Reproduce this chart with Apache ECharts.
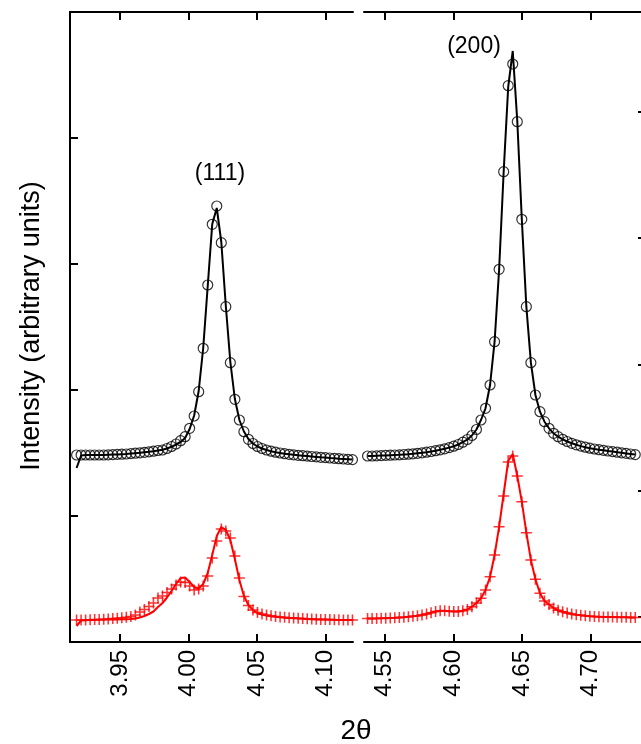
<!DOCTYPE html>
<html>
<head>
<meta charset="utf-8">
<script src="https://cdn.jsdelivr.net/npm/echarts@6.0.0/dist/echarts.min.js"></script>
<style>
  html, body { margin: 0; padding: 0; background: #fff; }
  #chart { width: 641px; height: 744px; }
</style>
</head>
<body>
<div id="chart"></div>
<script>
// 2theta sampling, (111) panel
const xsLeft = [3.9183, 3.9216, 3.9249, 3.9282, 3.9315, 3.9348, 3.9381, 3.9414, 3.9447, 3.9480,
  3.9513, 3.9546, 3.9579, 3.9612, 3.9645, 3.9678, 3.9711, 3.9744, 3.9777, 3.9810,
  3.9843, 3.9876, 3.9909, 3.9942, 3.9975, 4.0008, 4.0041, 4.0074, 4.0107, 4.0140,
  4.0173, 4.0206, 4.0239, 4.0272, 4.0305, 4.0338, 4.0371, 4.0404, 4.0437, 4.0470,
  4.0503, 4.0536, 4.0569, 4.0602, 4.0635, 4.0668, 4.0701, 4.0734, 4.0767, 4.0800,
  4.0833, 4.0866, 4.0899, 4.0932, 4.0965, 4.0998, 4.1031, 4.1064, 4.1097, 4.1130,
  4.1163, 4.1196];

const blackLeft = [187, 187, 187, 187, 187, 187, 187, 187.2, 187.4, 187.6,
  187.8, 188, 188.4, 188.8, 189.2, 189.7, 190.2, 190.8, 191.5, 192,
  193.5, 195.5, 198, 201.3, 205.3, 213.7, 226, 250.3, 293.7, 357,
  417.7, 436, 399.3, 335.3, 279.3, 242.7, 222, 210.3, 202.7, 198.5,
  195.5, 193.5, 192, 190.8, 189.8, 189, 188.3, 187.7, 187.2, 186.7,
  186.3, 185.9, 185.5, 185.1, 184.7, 184.4, 184, 183.7, 183.3, 183,
  182.7, 182.4];

const blackFitLeft = [174, 186.5, 187, 187, 187, 187, 187, 187.2, 187.4, 187.6,
  187.8, 188, 188.4, 188.8, 189.2, 189.7, 190.2, 190.8, 191.5, 192.3,
  193.5, 195.2, 197.5, 200, 204, 213, 226.5, 251, 294, 356,
  418, 434, 400, 336, 280, 243, 222, 210.5, 203, 198.5,
  195.5, 193.5, 192, 190.8, 189.8, 189, 188.3, 187.7, 187.2, 186.7,
  186.3, 185.9, 185.5, 185.1, 184.7, 184.4, 184, 183.7, 183.3, 183,
  182.7, 182.4];

const redLeft = [22, 22, 22, 22.2, 22.4, 22.6, 22.8, 23, 23.4, 23.8,
  24.2, 24.8, 25.5, 27, 30, 32.5, 35.5, 39, 44, 46,
  49.5, 53, 57, 60, 59.5, 56, 52, 53, 56, 66,
  84, 101, 113, 111, 104, 86, 64, 45.5, 36.5, 32,
  29.5, 28, 27, 26.2, 25.6, 25.1, 24.7, 24.3, 24, 23.7,
  23.4, 23.2, 23, 22.8, 22.6, 22.5, 22.4, 22.3, 22.2, 22.1,
  22, 22];

const redFitLeft = [16, 21.5, 21.8, 22, 22.1, 22.2, 22.3, 22.4, 22.5, 22.6,
  22.7, 22.8, 23, 23.5, 24.5, 26, 28, 30.5, 35, 39,
  44.5, 51, 58, 64, 64.5, 60, 55, 53.5, 58, 69,
  87, 106, 115, 112, 102, 83, 62, 46, 37, 32,
  29, 27.5, 26.5, 25.8, 25.2, 24.7, 24.3, 24, 23.7, 23.4,
  23.2, 23, 22.8, 22.6, 22.5, 22.4, 22.3, 22.2, 22.1, 22,
  22, 22];

// 2theta sampling, (200) panel
const xsRight = [4.5376, 4.5409, 4.5442, 4.5475, 4.5508, 4.5541, 4.5574, 4.5607, 4.5640, 4.5673,
  4.5706, 4.5739, 4.5772, 4.5805, 4.5838, 4.5871, 4.5904, 4.5937, 4.5970, 4.6003,
  4.6036, 4.6069, 4.6102, 4.6135, 4.6168, 4.6201, 4.6234, 4.6267, 4.6300, 4.6333,
  4.6366, 4.6399, 4.6432, 4.6465, 4.6498, 4.6531, 4.6564, 4.6597, 4.6630, 4.6663,
  4.6696, 4.6729, 4.6762, 4.6795, 4.6828, 4.6861, 4.6894, 4.6927, 4.6960, 4.6993,
  4.7026, 4.7059, 4.7092, 4.7125, 4.7158, 4.7191, 4.7224, 4.7257, 4.7290, 4.7323];

const blackRight = [186, 186, 186.2, 186.4, 186.6, 186.8, 187, 187.2, 187.5, 187.8,
  188.2, 188.7, 189.2, 189.8, 190.5, 191.3, 192.2, 193.2, 194.4, 195.8,
  197.5, 199.8, 202.5, 206.5, 212.5, 222, 233.7, 257, 300.3, 372.7,
  470.3, 556.3, 578, 520.3, 422.7, 335.3, 279.3, 247, 230.3, 220.3,
  213.7, 208.7, 205.3, 202.7, 200.5, 198.7, 197.2, 195.9, 194.8, 193.8,
  193, 192.3, 191.7, 191, 190.4, 189.8, 189.2, 188.6, 188, 187.4];

const blackFitRight = [186, 186, 186.2, 186.4, 186.6, 186.8, 187, 187.2, 187.5, 187.8,
  188.2, 188.7, 189.2, 189.8, 190.5, 191.3, 192.2, 193.2, 194.4, 195.8,
  197.5, 199.8, 202.5, 206.5, 212.5, 222, 233.7, 257, 300.3, 372.7,
  470.3, 555, 591, 521, 422.7, 335.3, 279.3, 247, 230.3, 220.3,
  213.7, 208.7, 205.3, 202.7, 200.5, 198.7, 197.2, 195.9, 194.8, 193.8,
  193, 192.3, 191.7, 191, 190.4, 189.8, 189.2, 188.6, 188, 187.4];

const redRight = [23.5, 23.5, 23.6, 23.7, 23.8, 24, 24.2, 24.5, 24.8, 25.2,
  25.7, 26.3, 27, 28, 29.2, 30.5, 31.3, 31.2, 30.8, 30.5,
  30.5, 31.2, 32.5, 35.3, 39, 43.7, 52, 65.3, 87, 115.3,
  146, 180, 186, 166, 140.3, 109.3, 82, 62.7, 48.7, 41,
  37.5, 34, 31.7, 30.2, 29, 28, 27.3, 26.7, 26.2, 25.8,
  25.5, 25.3, 25.1, 25, 24.9, 24.8, 24.7, 24.7, 24.6, 24.6];

const redFitRight = [23.5, 23.5, 23.6, 23.7, 23.8, 24, 24.2, 24.5, 24.8, 25.2,
  25.7, 26.3, 27, 28, 29.2, 30.5, 31.3, 31.2, 30.8, 30.5,
  30.5, 31.2, 32.5, 35.3, 39, 43.7, 52, 65.3, 87, 115.3,
  148, 181, 188, 166, 140.3, 109.3, 82, 62.7, 48.7, 41,
  37.5, 34, 31.7, 30.2, 29, 28, 27.3, 26.7, 26.2, 25.8,
  25.5, 25.3, 25.1, 25, 24.9, 24.8, 24.7, 24.7, 24.6, 24.6];

const ticksLeft = [3.95, 4.00, 4.05, 4.10];
const ticksRight = [4.55, 4.60, 4.65, 4.70];
const yTicksLeft = [126, 252, 378, 504];
const yTicksRight = [25, 151, 277, 404, 530];

const FONT = '"Liberation Sans", Arial, sans-serif';
// filled plus sign, arms about 1.5px thick at size 11
const PLUS = 'path://M4.3,0H5.7V4.3H10V5.7H5.7V10H4.3V5.7H0V4.3H4.3Z';

const pairs = (xs, ys) => xs.map((x, i) => [x, ys[i]]);

const bottomAxis = (grid, min, max, ticks) => ({
  type: 'value', gridIndex: grid, position: 'bottom', min: min, max: max,
  axisLine: { show: true, lineStyle: { color: '#000', width: 2 } },
  axisTick: { show: true, inside: true, length: 8, customValues: ticks, lineStyle: { color: '#000', width: 2 } },
  axisLabel: {
    show: true, customValues: ticks, rotate: 90, margin: 8,
    fontSize: 24, fontFamily: FONT, color: '#000',
    formatter: (v) => v.toFixed(2)
  },
  splitLine: { show: false }
});

const topAxis = (grid, min, max, ticks) => ({
  type: 'value', gridIndex: grid, position: 'top', min: min, max: max,
  axisLine: { show: true, lineStyle: { color: '#000', width: 2 } },
  axisTick: { show: true, inside: true, length: 8, customValues: ticks, lineStyle: { color: '#000', width: 2 } },
  axisLabel: { show: false },
  splitLine: { show: false }
});

const circleStyle = { color: 'rgba(0,0,0,0)', borderColor: '#000', borderWidth: 1.2 };

const myChart = echarts.init(document.getElementById('chart'));

myChart.setOption({
  animation: false,
  backgroundColor: '#fff',
  grid: [
    { left: 70, top: 12, width: 283, height: 630 },
    { left: 364, top: 12, width: 277, height: 630 }
  ],
  xAxis: [
    bottomAxis(0, 3.9135, 4.12, ticksLeft),
    topAxis(0, 3.9135, 4.12, ticksLeft),
    bottomAxis(1, 4.535, 4.7365, ticksRight),
    topAxis(1, 4.535, 4.7365, ticksRight)
  ],
  yAxis: [
    {
      type: 'value', gridIndex: 0, position: 'left', min: 0, max: 630,
      axisLine: { show: true, lineStyle: { color: '#000', width: 2 } },
      axisTick: { show: true, inside: true, length: 8, customValues: yTicksLeft, lineStyle: { color: '#000', width: 2 } },
      axisLabel: { show: false },
      splitLine: { show: false }
    },
    {
      type: 'value', gridIndex: 1, position: 'right', min: 0, max: 630,
      axisLine: { show: false },
      axisTick: { show: true, inside: true, length: 3, customValues: yTicksRight, lineStyle: { color: '#000', width: 2 } },
      axisLabel: { show: false },
      splitLine: { show: false }
    }
  ],
  series: [
    {
      name: 'fit black (111)', type: 'line', xAxisIndex: 0, yAxisIndex: 0,
      showSymbol: false, lineStyle: { color: '#000', width: 2 },
      data: pairs(xsLeft, blackFitLeft)
    },
    {
      name: 'data black (111)', type: 'scatter', xAxisIndex: 0, yAxisIndex: 0,
      symbol: 'circle', symbolSize: 10, itemStyle: circleStyle,
      data: pairs(xsLeft, blackLeft)
    },
    {
      name: 'fit red (111)', type: 'line', xAxisIndex: 0, yAxisIndex: 0,
      showSymbol: false, lineStyle: { color: '#ff0000', width: 2 },
      data: pairs(xsLeft, redFitLeft)
    },
    {
      name: 'data red (111)', type: 'scatter', xAxisIndex: 0, yAxisIndex: 0,
      symbol: PLUS, symbolSize: 11,
      itemStyle: { color: '#ff0000' },
      data: pairs(xsLeft, redLeft)
    },
    {
      name: 'fit black (200)', type: 'line', xAxisIndex: 2, yAxisIndex: 1,
      showSymbol: false, lineStyle: { color: '#000', width: 2 },
      data: pairs(xsRight, blackFitRight)
    },
    {
      name: 'data black (200)', type: 'scatter', xAxisIndex: 2, yAxisIndex: 1,
      symbol: 'circle', symbolSize: 10, itemStyle: circleStyle,
      data: pairs(xsRight, blackRight)
    },
    {
      name: 'fit red (200)', type: 'line', xAxisIndex: 2, yAxisIndex: 1,
      showSymbol: false, lineStyle: { color: '#ff0000', width: 2 },
      data: pairs(xsRight, redFitRight)
    },
    {
      name: 'data red (200)', type: 'scatter', xAxisIndex: 2, yAxisIndex: 1,
      symbol: PLUS, symbolSize: 11,
      itemStyle: { color: '#ff0000' },
      data: pairs(xsRight, redRight)
    }
  ],
  graphic: [
    {
      type: 'text', x: 32, y: 326, rotation: Math.PI / 2,
      style: { text: 'Intensity (arbitrary units)', font: '27px ' + FONT, fill: '#000', align: 'center', verticalAlign: 'middle' }
    },
    {
      type: 'text', x: 356, y: 731,
      style: { text: '2θ', font: '28px ' + FONT, fill: '#000', align: 'center', verticalAlign: 'middle' }
    },
    {
      type: 'text', x: 220, y: 174,
      style: { text: '(111)', font: '23px ' + FONT, fill: '#000', align: 'center', verticalAlign: 'middle' }
    },
    {
      type: 'text', x: 474, y: 47,
      style: { text: '(200)', font: '23px ' + FONT, fill: '#000', align: 'center', verticalAlign: 'middle' }
    }
  ]
});
</script>
</body>
</html>
